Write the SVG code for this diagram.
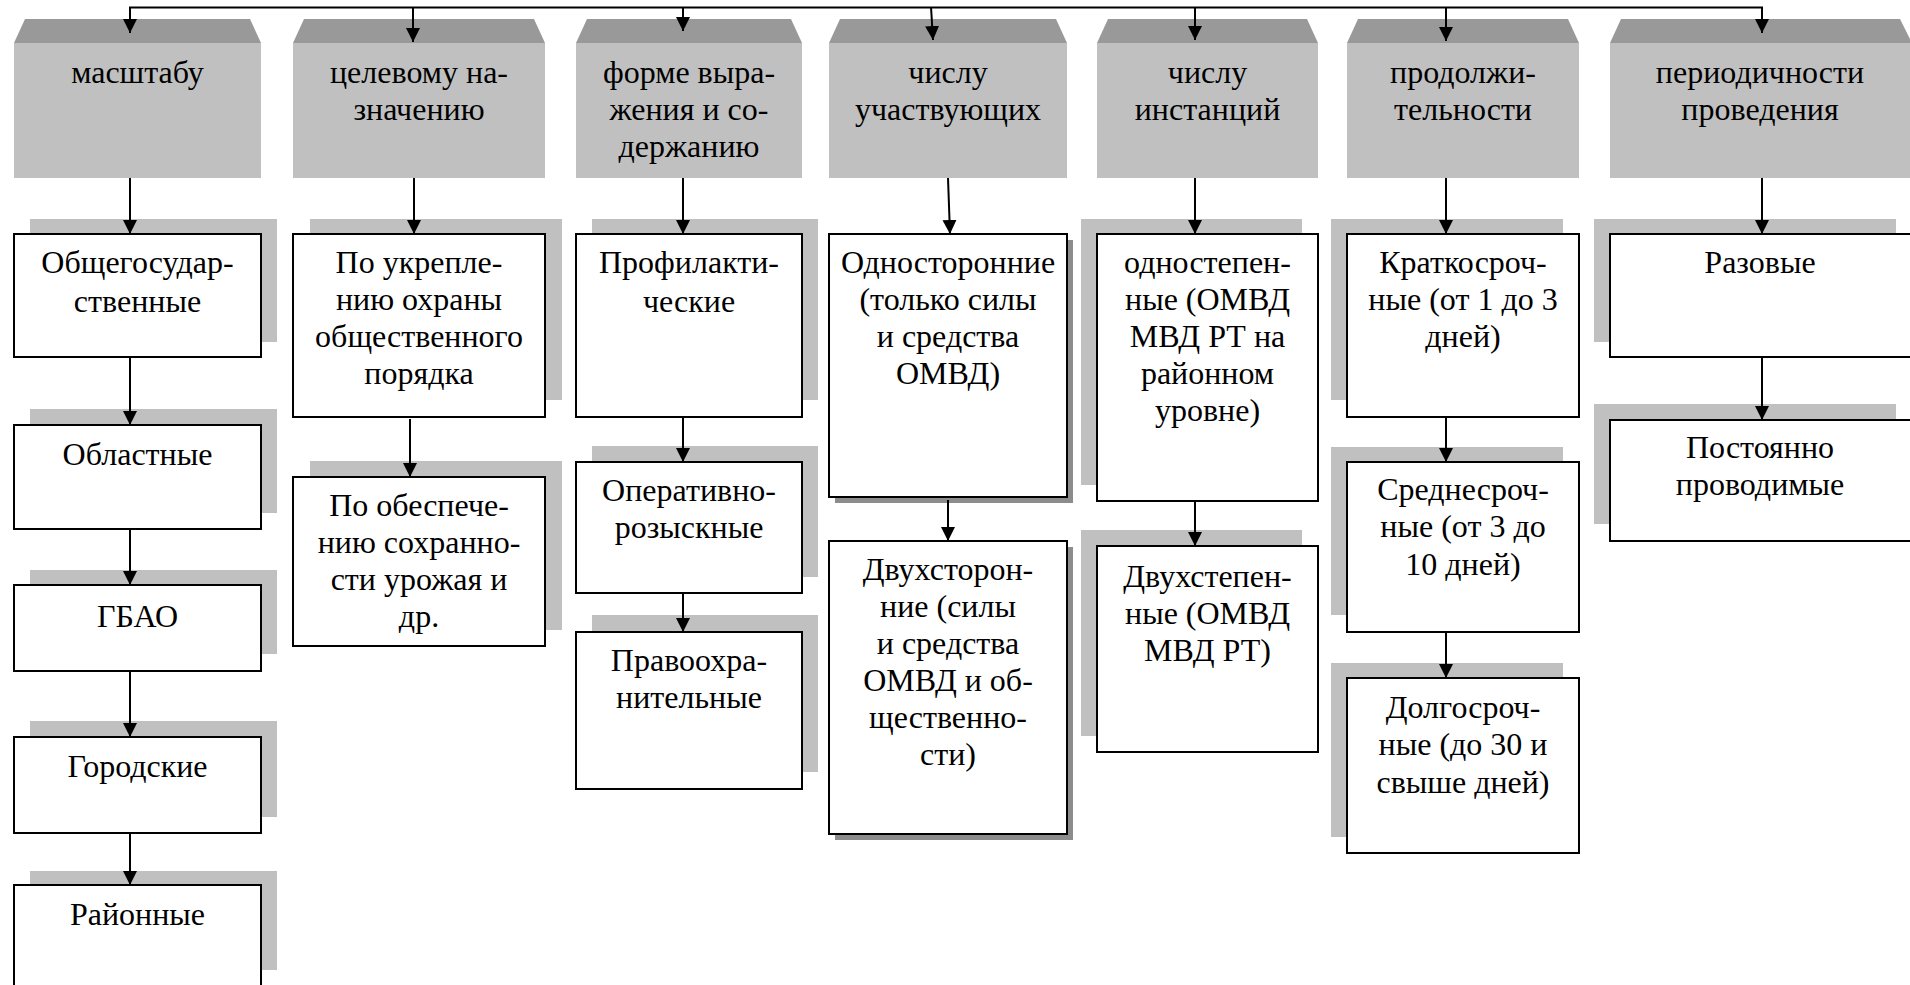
<svg xmlns="http://www.w3.org/2000/svg" width="1910" height="985" viewBox="0 0 1910 985">
<defs>
<marker id="ah" markerUnits="userSpaceOnUse" markerWidth="14" markerHeight="16" refX="14" refY="7" orient="auto" viewBox="0 0 14 14">
<path d="M0,0 L14,7 L0,14 z" fill="#000"/>
</marker>
<style>
.ht{fill:#999999}
.hb{fill:#C0C0C0}
.sh{fill:#C0C0C0}
.ds{fill:#8c8c8c}
.bx{fill:#fff;stroke:#000;stroke-width:2}
text{font-family:'Liberation Serif','Times New Roman',serif;font-size:32px;fill:#000;text-anchor:middle}
.cn{stroke:#000;stroke-width:2;fill:none}
.ca{stroke:#000;stroke-width:2;fill:none;marker-end:url(#ah)}
</style>
</defs>
<rect width="1910" height="985" fill="#fff"/>
<!-- headers -->
<g id="h1"><polygon class="ht" points="25,19 250,19 261,43 14,43"/><rect class="hb" x="14" y="43" width="247" height="135"/><text x="137.5" y="83">масштабу</text></g>
<g id="h2"><polygon class="ht" points="304,19 534,19 545,43 293,43"/><rect class="hb" x="293" y="43" width="252" height="135"/><text x="419" y="83">целевому на-</text><text x="419" y="120">значению</text></g>
<g id="h3"><polygon class="ht" points="587,19 791,19 802,43 576,43"/><rect class="hb" x="576" y="43" width="226" height="135"/><text x="689" y="83">форме выра-</text><text x="689" y="120">жения и со-</text><text x="689" y="157">держанию</text></g>
<g id="h4"><polygon class="ht" points="840,19 1056,19 1067,43 829,43"/><rect class="hb" x="829" y="43" width="238" height="135"/><text x="948" y="83">числу</text><text x="948" y="120">участвующих</text></g>
<g id="h5"><polygon class="ht" points="1108,19 1307,19 1318,43 1097,43"/><rect class="hb" x="1097" y="43" width="221" height="135"/><text x="1207.5" y="83">числу</text><text x="1207.5" y="120">инстанций</text></g>
<g id="h6"><polygon class="ht" points="1358,19 1568,19 1579,43 1347,43"/><rect class="hb" x="1347" y="43" width="232" height="135"/><text x="1463" y="83">продолжи-</text><text x="1463" y="120">тельности</text></g>
<g id="h7"><polygon class="ht" points="1621,19 1900,19 1912,43 1610,43"/><rect class="hb" x="1610" y="43" width="302" height="135"/><text x="1760" y="83">периодичности</text><text x="1760" y="120">проведения</text></g>

<!-- column 1 -->
<g id="c1a"><rect class="sh" x="30" y="219" width="247" height="123"/><rect class="bx" x="14" y="234" width="247" height="123"/><text x="137.5" y="273">Общегосудар-</text><text x="137.5" y="312">ственные</text></g>
<g id="c1b"><rect class="sh" x="30" y="409" width="247" height="104"/><rect class="bx" x="14" y="425" width="247" height="104"/><text x="137.5" y="465">Областные</text></g>
<g id="c1c"><rect class="sh" x="30" y="570" width="247" height="84"/><rect class="bx" x="14" y="585" width="247" height="86"/><text x="137.5" y="627">ГБАО</text></g>
<g id="c1d"><rect class="sh" x="30" y="721" width="247" height="96"/><rect class="bx" x="14" y="737" width="247" height="96"/><text x="137.5" y="777">Городские</text></g>
<g id="c1e"><rect class="sh" x="30" y="871" width="247" height="99"/><rect class="bx" x="14" y="885" width="247" height="110"/><text x="137.5" y="925">Районные</text></g>

<!-- column 2 -->
<g id="c2a"><rect class="sh" x="310" y="219" width="252" height="181"/><rect class="bx" x="293" y="234" width="252" height="183"/><text x="419" y="273">По укрепле-</text><text x="419" y="310">нию охраны</text><text x="419" y="347">общественного</text><text x="419" y="384">порядка</text></g>
<g id="c2b"><rect class="sh" x="310" y="461" width="252" height="169"/><rect class="bx" x="293" y="477" width="252" height="169"/><text x="419" y="516">По обеспече-</text><text x="419" y="553">нию сохранно-</text><text x="419" y="590">сти урожая и</text><text x="419" y="627">др.</text></g>

<!-- column 3 -->
<g id="c3a"><rect class="sh" x="592" y="219" width="226" height="181"/><rect class="bx" x="576" y="234" width="226" height="183"/><text x="689" y="273">Профилакти-</text><text x="689" y="312">ческие</text></g>
<g id="c3b"><rect class="sh" x="592" y="446" width="226" height="131"/><rect class="bx" x="576" y="462" width="226" height="131"/><text x="689" y="501">Оперативно-</text><text x="689" y="538">розыскные</text></g>
<g id="c3c"><rect class="sh" x="592" y="615" width="226" height="157"/><rect class="bx" x="576" y="632" width="226" height="157"/><text x="689" y="671">Правоохра-</text><text x="689" y="708">нительные</text></g>

<!-- column 4 -->
<g id="c4a"><rect class="ds" x="835" y="240" width="238" height="263"/><rect class="bx" x="829" y="234" width="238" height="263"/><text x="948" y="273">Односторонние</text><text x="948" y="310">(только силы</text><text x="948" y="347">и средства</text><text x="948" y="384">ОМВД)</text></g>
<g id="c4b"><rect class="ds" x="835" y="547" width="238" height="293"/><rect class="bx" x="829" y="541" width="238" height="293"/><text x="948" y="580">Двухсторон-</text><text x="948" y="617">ние (силы</text><text x="948" y="654">и средства</text><text x="948" y="691">ОМВД и об-</text><text x="948" y="728">щественно-</text><text x="948" y="765">сти)</text></g>

<!-- column 5 -->
<g id="c5a"><rect class="sh" x="1081" y="219" width="221" height="266"/><rect class="bx" x="1097" y="234" width="221" height="267"/><text x="1207.5" y="273">одностепен-</text><text x="1207.5" y="310">ные (ОМВД</text><text x="1207.5" y="347">МВД РТ на</text><text x="1207.5" y="384">районном</text><text x="1207.5" y="421">уровне)</text></g>
<g id="c5b"><rect class="sh" x="1081" y="530" width="221" height="206"/><rect class="bx" x="1097" y="546" width="221" height="206"/><text x="1207.5" y="587">Двухстепен-</text><text x="1207.5" y="624">ные (ОМВД</text><text x="1207.5" y="661">МВД РТ)</text></g>

<!-- column 6 -->
<g id="c6a"><rect class="sh" x="1331" y="219" width="232" height="181"/><rect class="bx" x="1347" y="234" width="232" height="183"/><text x="1463" y="273">Краткосроч-</text><text x="1463" y="310">ные (от 1 до 3</text><text x="1463" y="347">дней)</text></g>
<g id="c6b"><rect class="sh" x="1331" y="447" width="232" height="168"/><rect class="bx" x="1347" y="462" width="232" height="170"/><text x="1463" y="500">Среднесроч-</text><text x="1463" y="537">ные (от 3 до</text><text x="1463" y="575">10 дней)</text></g>
<g id="c6c"><rect class="sh" x="1331" y="663" width="232" height="174"/><rect class="bx" x="1347" y="678" width="232" height="175"/><text x="1463" y="718">Долгосроч-</text><text x="1463" y="755">ные (до 30 и</text><text x="1463" y="793">свыше дней)</text></g>

<!-- column 7 -->
<g id="c7a"><rect class="sh" x="1594" y="219" width="302" height="123"/><rect class="bx" x="1610" y="234" width="304" height="123"/><text x="1760" y="273">Разовые</text></g>
<g id="c7b"><rect class="sh" x="1594" y="404" width="302" height="120"/><rect class="bx" x="1610" y="420" width="304" height="121"/><text x="1760" y="458">Постоянно</text><text x="1760" y="495">проводимые</text></g>

<!-- connectors -->
<g id="connectors">
<line class="cn" x1="129" y1="7.5" x2="1763" y2="7.5"/>
<line class="ca" x1="130" y1="7" x2="130" y2="33"/>
<line class="ca" x1="413" y1="7" x2="413" y2="42"/>
<line class="ca" x1="683" y1="7" x2="683" y2="31"/>
<line class="ca" x1="931" y1="7" x2="933" y2="40"/>
<line class="ca" x1="1195" y1="7" x2="1195" y2="40"/>
<line class="ca" x1="1446" y1="7" x2="1446" y2="41"/>
<line class="ca" x1="1762" y1="7" x2="1762" y2="33"/>

<line class="ca" x1="130" y1="178" x2="130" y2="234"/>
<line class="ca" x1="130" y1="357" x2="130" y2="425"/>
<line class="ca" x1="130" y1="529" x2="130" y2="585"/>
<line class="ca" x1="130" y1="671" x2="130" y2="737"/>
<line class="ca" x1="130" y1="833" x2="130" y2="885"/>

<line class="ca" x1="414" y1="178" x2="414" y2="234"/>
<line class="ca" x1="410" y1="419" x2="410" y2="477"/>

<line class="ca" x1="683" y1="178" x2="683" y2="234"/>
<line class="ca" x1="683" y1="417" x2="683" y2="462"/>
<line class="ca" x1="683" y1="593" x2="683" y2="632"/>

<line class="ca" x1="948" y1="178" x2="950" y2="234"/>
<line class="ca" x1="948" y1="500" x2="948" y2="541"/>

<line class="ca" x1="1195" y1="178" x2="1195" y2="234"/>
<line class="ca" x1="1195" y1="501" x2="1195" y2="546"/>

<line class="ca" x1="1446" y1="178" x2="1446" y2="234"/>
<line class="ca" x1="1446" y1="417" x2="1446" y2="462"/>
<line class="ca" x1="1446" y1="632" x2="1446" y2="678"/>

<line class="ca" x1="1762" y1="178" x2="1762" y2="234"/>
<line class="ca" x1="1762" y1="357" x2="1762" y2="420"/>
</g>
</svg>
